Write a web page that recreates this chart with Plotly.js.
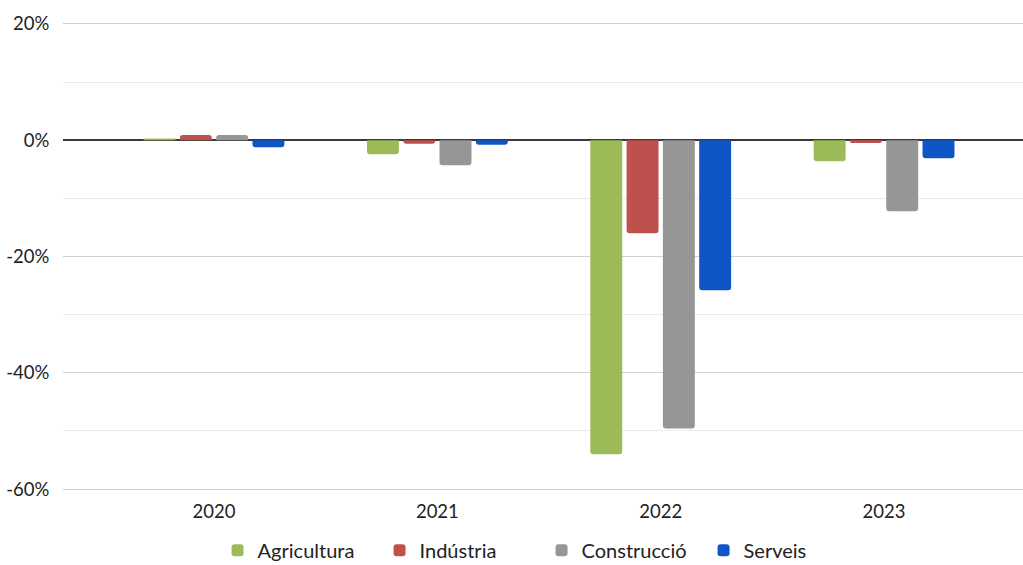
<!DOCTYPE html>
<html>
<head>
<meta charset="utf-8">
<script src="https://cdn.plot.ly/plotly-3.0.1.min.js"></script>
<style>html,body{margin:0;padding:0;background:#fff;}#chart{width:1023px;height:565px;}</style>
</head>
<body>
<div id="chart"></div>
<script>
const years = ["2020", "2021", "2022", "2023"];
const agricultura = [0.003, -0.024, -0.540, -0.036];
const industria = [0.009, -0.006, -0.160, -0.005];
const construccio = [0.009, -0.043, -0.496, -0.122];
const serveis = [-0.012, -0.008, -0.258, -0.031];
const seriesNames = ["Agricultura", "Indústria", "Construcció", "Serveis"];
const seriesColors = ["#9BBB59", "#C0504D", "#969696", "#1055C8"];
const yTickVals = [0.2, 0, -0.2, -0.4, -0.6];
const yTickText = ["20%", "0%", "-20%", "-40%", "-60%"];
const seriesValues = [agricultura, industria, construccio, serveis];

const traces = seriesValues.map((vals, i) => ({
  type: "bar",
  name: seriesNames[i],
  x: years,
  y: vals,
  marker: {color: seriesColors[i], line: {width: 0}},
  hoverinfo: "skip"
}));

const font = {family: "Lato, 'Open Sans', sans-serif", size: 18.5, color: "#222"};

const layout = {
  width: 1023, height: 565,
  margin: {l: 63, r: 0, t: 21, b: 73, autoexpand: false},
  paper_bgcolor: "#fff", plot_bgcolor: "#fff",
  barmode: "group", bargap: 0.35, bargroupgap: 0.12,
  barcornerradius: 3,
  font: font,
  showlegend: true,
  legend: {orientation: "h", x: 0.161, xanchor: "left", yref: "container", y: 0.026, yanchor: "middle",
           font: {family: font.family, size: 20, color: "#222"}, itemwidth: 30, tracegroupgap: 0,
           entrywidth: 117, entrywidthmode: "pixels"},
  xaxis: {type: "category", range: [-0.676, 3.622], showgrid: false, zeroline: false,
          showline: false, ticks: "", tickfont: font, ticklabelstandoff: 6, automargin: false},
  yaxis: {range: [-0.605, 0.205], tickmode: "array", tickvals: yTickVals, ticktext: yTickText,
          showgrid: true, gridcolor: "#d0d0d0", gridwidth: 1,
          minor: {tickmode: "array", tickvals: [0.1, -0.1, -0.3, -0.5], showgrid: true, gridcolor: "#ebebeb", gridwidth: 1},
          zeroline: true, zerolinecolor: "#3a3a3a", zerolinewidth: 1.5,
          showline: false, ticks: "outside", ticklen: 9, tickcolor: "rgba(0,0,0,0)",
          tickfont: font, automargin: false}
};

Plotly.newPlot("chart", traces, layout, {displayModeBar: false, staticPlot: true});
</script>
</body>
</html>
